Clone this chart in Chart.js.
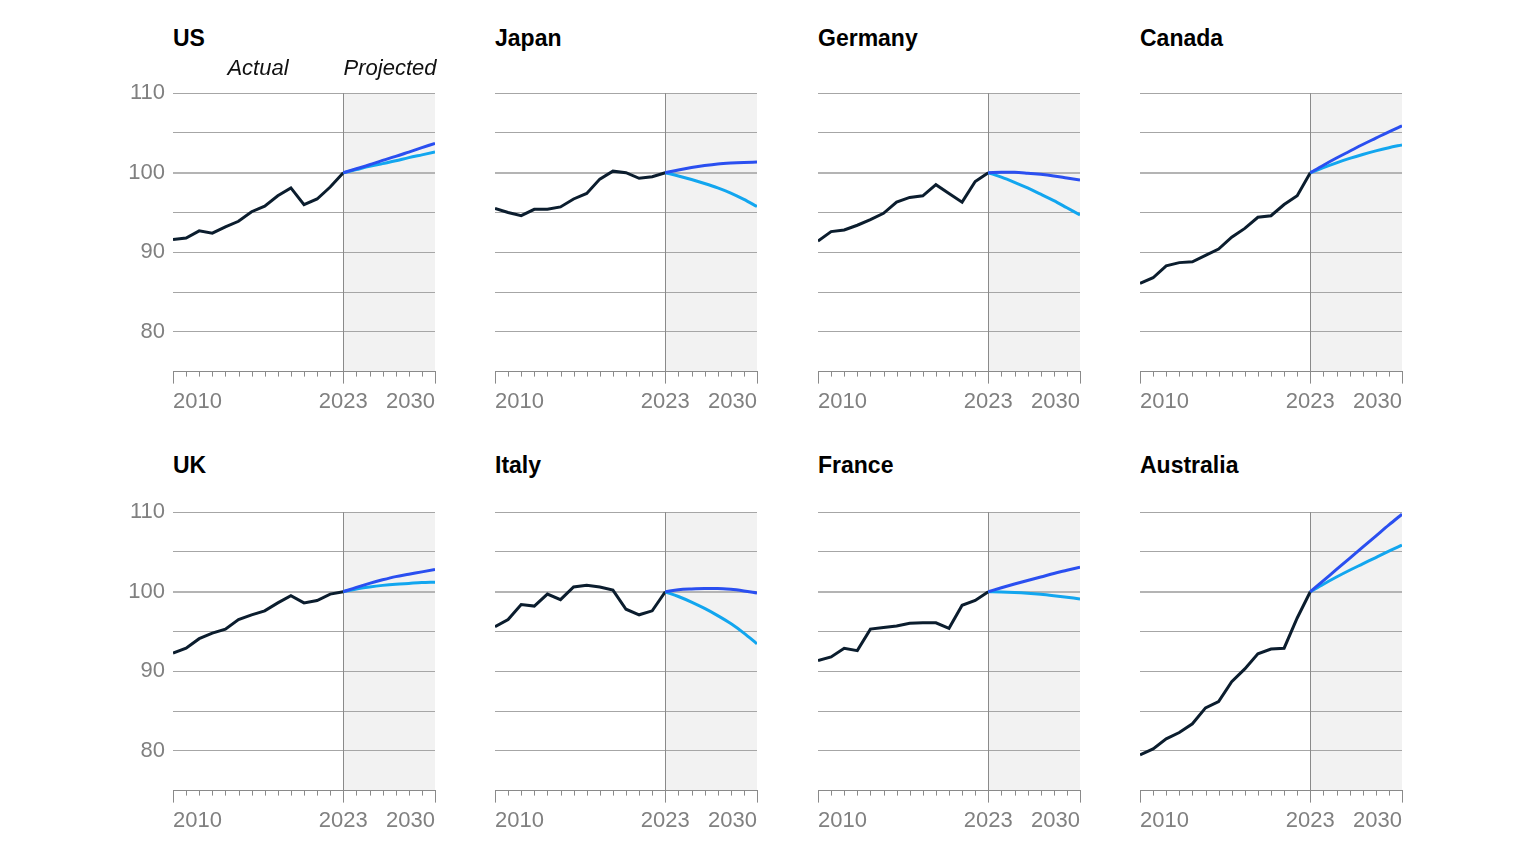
<!DOCTYPE html>
<html>
<head>
<meta charset="utf-8">
<script src="https://cdn.jsdelivr.net/npm/chart.js@4.4.1/dist/chart.umd.min.js"></script>
<style>
    body { margin: 0; background: #fff; width: 1536px; height: 864px; overflow: hidden; position: relative; font-family: 'Liberation Sans', Arial, sans-serif; }
    canvas { position: absolute; }
    .title { position: absolute; font-weight: bold; font-size: 23px; line-height: 23px; color: #000; white-space: nowrap; }
    .note { position: absolute; font-style: italic; font-size: 22px; line-height: 22px; color: #111; white-space: nowrap; transform: translateX(-50%); }
</style>
</head>
<body>
<script>
// Years and tick labels
const actualYears = [2010, 2011, 2012, 2013, 2014, 2015, 2016, 2017, 2018, 2019, 2020, 2021, 2022, 2023];
const projYears = [2023, 2024, 2025, 2026, 2027, 2028, 2029, 2030];
const xTickLabels = [2010, 2023, 2030];
const yTickLabels = [80, 90, 100, 110];
const countries = ['US', 'Japan', 'Germany', 'Canada', 'UK', 'Italy', 'France', 'Australia'];

// Index, 2023 = 100. A = dark blue projection, B = light blue projection
const usActual = [91.6, 91.8, 92.7, 92.4, 93.2, 93.9, 95.1, 95.8, 97.1, 98.1, 96.0, 96.7, 98.2, 100];
const usProjA = [100, 100.5, 101.0, 101.55, 102.05, 102.6, 103.15, 103.7];
const usProjB = [100, 100.4, 100.8, 101.15, 101.5, 101.9, 102.25, 102.6];

const japanActual = [95.5, 95.0, 94.6, 95.4, 95.4, 95.7, 96.7, 97.4, 99.2, 100.2, 100.0, 99.3, 99.5, 100];
const japanProjA = [100, 100.35, 100.65, 100.9, 101.1, 101.22, 101.3, 101.35];
const japanProjB = [100, 99.6, 99.15, 98.65, 98.1, 97.45, 96.65, 95.75];

const germanyActual = [91.4, 92.6, 92.8, 93.4, 94.1, 94.9, 96.3, 96.9, 97.1, 98.5, 97.4, 96.3, 98.9, 100];
const germanyProjA = [100, 100.05, 100.05, 99.95, 99.8, 99.6, 99.35, 99.1];
const germanyProjB = [100, 99.45, 98.8, 98.1, 97.3, 96.5, 95.6, 94.7];

const canadaActual = [86.1, 86.8, 88.3, 88.7, 88.8, 89.6, 90.4, 91.9, 93.0, 94.4, 94.6, 96.0, 97.1, 100];
const canadaProjA = [100, 100.95, 101.85, 102.7, 103.55, 104.35, 105.15, 105.9];
const canadaProjB = [100, 100.65, 101.25, 101.8, 102.3, 102.75, 103.15, 103.5];

const ukActual = [92.3, 92.9, 94.1, 94.8, 95.3, 96.5, 97.1, 97.6, 98.6, 99.5, 98.6, 98.9, 99.7, 100];
const ukProjA = [100, 100.55, 101.05, 101.5, 101.9, 102.2, 102.5, 102.8];
const ukProjB = [100, 100.35, 100.6, 100.8, 100.95, 101.05, 101.15, 101.2];

const italyActual = [95.6, 96.5, 98.4, 98.2, 99.7, 99.0, 100.6, 100.8, 100.6, 100.2, 97.8, 97.1, 97.6, 100];
const italyProjA = [100, 100.25, 100.35, 100.4, 100.4, 100.3, 100.1, 99.85];
const italyProjB = [100, 99.4, 98.7, 97.9, 97.0, 96.0, 94.8, 93.45];

const franceActual = [91.35, 91.8, 92.9, 92.6, 95.3, 95.5, 95.7, 96.05, 96.1, 96.1, 95.4, 98.3, 98.9, 100];
const franceProjA = [100, 100.5, 100.97, 101.42, 101.85, 102.3, 102.7, 103.1];
const franceProjB = [100, 99.98, 99.92, 99.82, 99.68, 99.5, 99.3, 99.1];

const australiaActual = [79.5, 80.25, 81.5, 82.3, 83.4, 85.4, 86.2, 88.7, 90.3, 92.2, 92.8, 92.9, 96.7, 100];
const australiaProjA = [100, 101.4, 102.8, 104.2, 105.6, 107.0, 108.4, 109.75];
const australiaProjB = [100, 100.95, 101.85, 102.7, 103.5, 104.3, 105.1, 105.85];

const series = [
    [usActual, usProjA, usProjB],
    [japanActual, japanProjA, japanProjB],
    [germanyActual, germanyProjA, germanyProjB],
    [canadaActual, canadaProjA, canadaProjB],
    [ukActual, ukProjA, ukProjB],
    [italyActual, italyProjA, italyProjB],
    [franceActual, franceProjA, franceProjB],
    [australiaActual, australiaProjA, australiaProjB]
];

const axisGray = '#8a8a8a';
const labelGray = '#808080';

// Shaded projection band, 2023 divider and year tick marks
const panelDecor = {
    id: 'panelDecor',
    beforeDraw(chart) {
        const { ctx, chartArea: { top, bottom, right }, scales: { x } } = chart;
        const x0 = x.getPixelForValue(2023);
        ctx.save();
        ctx.fillStyle = '#f2f2f2';
        ctx.fillRect(x0, top, right - x0, bottom - top);
        ctx.restore();
    },
    beforeDatasetsDraw(chart) {
        const { ctx, chartArea: { top, bottom }, scales: { x } } = chart;
        ctx.save();
        ctx.strokeStyle = axisGray;
        ctx.lineWidth = 1;
        ctx.beginPath();
        x.ticks.forEach(t => {
            const px = Math.round(x.getPixelForValue(t.value)) + 0.5;
            const major = xTickLabels.includes(t.value);
            const y0 = t.value === 2023 ? top : bottom;
            ctx.moveTo(px, y0);
            ctx.lineTo(px, bottom + (major ? 12 : 5));
        });
        ctx.stroke();
        ctx.restore();
    }
};

function makePanel(idx) {
    const col = idx % 4;
    const row = Math.floor(idx / 4);
    const plotLeft = Math.round(173 + col * 322.3);
    const plotTop = row === 0 ? 93 : 512;
    const [actual, projA, projB] = series[idx];

    const canvas = document.createElement('canvas');
    canvas.width = 332;
    canvas.height = 348;
    canvas.style.left = (plotLeft - 60) + 'px';
    canvas.style.top = (plotTop - 21) + 'px';
    document.body.appendChild(canvas);

    const title = document.createElement('div');
    title.className = 'title';
    title.textContent = countries[idx];
    title.style.left = plotLeft + 'px';
    title.style.top = (row === 0 ? 27 : 454) + 'px';
    document.body.appendChild(title);

    new Chart(canvas.getContext('2d'), {
        type: 'line',
        data: {
            datasets: [
                {
                    data: projYears.map((yr, i) => ({ x: yr, y: projA[i] })),
                    borderColor: '#2a4ff0',
                    borderWidth: 3,
                    pointRadius: 0,
                    cubicInterpolationMode: 'monotone'
                },
                {
                    data: projYears.map((yr, i) => ({ x: yr, y: projB[i] })),
                    borderColor: '#12a6ef',
                    borderWidth: 3,
                    pointRadius: 0,
                    cubicInterpolationMode: 'monotone'
                },
                {
                    data: actualYears.map((yr, i) => ({ x: yr, y: actual[i] })),
                    borderColor: '#0b1d2e',
                    borderWidth: 3,
                    pointRadius: 0,
                    tension: 0
                }
            ]
        },
        options: {
            responsive: false,
            animation: false,
            layout: { padding: { top: 20, right: 10, bottom: 0, left: 0 } },
            plugins: {
                legend: { display: false },
                tooltip: { enabled: false }
            },
            scales: {
                x: {
                    type: 'linear',
                    min: 2010,
                    max: 2030,
                    grid: { drawOnChartArea: false, drawTicks: true, tickLength: 12, tickColor: 'transparent' },
                    border: { display: true, color: axisGray, width: 1 },
                    ticks: {
                        stepSize: 1,
                        autoSkip: false,
                        maxRotation: 0,
                        align: 'inner',
                        padding: 5,
                        color: labelGray,
                        font: { family: 'Liberation Sans', size: 22 },
                        callback: v => xTickLabels.includes(v) ? String(v) : ''
                    }
                },
                y: {
                    min: 75,
                    max: 110,
                    afterFit: scale => { scale.width = 60; },
                    grid: {
                        drawTicks: false,
                        color: c => c.tick.value === 100 ? '#b4b4b4' : '#a6a6a6',
                        lineWidth: c => c.tick.value === 100 ? 2 : 1
                    },
                    border: { display: false },
                    ticks: {
                        stepSize: 5,
                        padding: 8,
                        color: labelGray,
                        font: { family: 'Liberation Sans', size: 22 },
                        callback: v => (col === 0 && yTickLabels.includes(v)) ? String(v) : ''
                    }
                }
            }
        },
        plugins: [panelDecor]
    });
}

countries.forEach((c, i) => makePanel(i));

// Actual / Projected notes above the first panel
[['Actual', 258], ['Projected', 390]].forEach(([text, cx]) => {
    const el = document.createElement('div');
    el.className = 'note';
    el.textContent = text;
    el.style.left = cx + 'px';
    el.style.top = '57px';
    document.body.appendChild(el);
});
</script>
</body>
</html>
